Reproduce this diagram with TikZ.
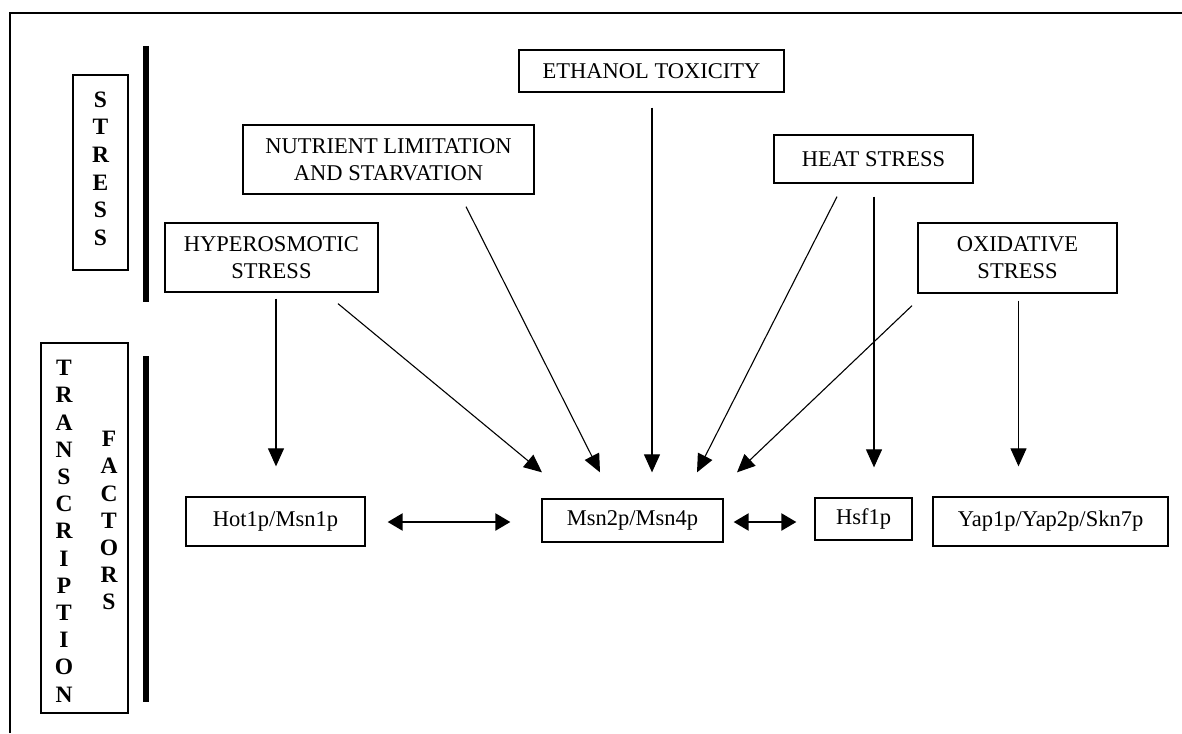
\documentclass[tikz,border=0pt]{standalone}
\usepackage{fontspec}
\setmainfont{Liberation Serif}
\usetikzlibrary{arrows.meta,calc}

\tikzset{
  box/.style={draw,line width=1.3pt,align=center,inner sep=0pt,font=\fontsize{22.5}{27}\selectfont},
  letter/.style={inner sep=0pt,font=\fontsize{23.5}{27}\selectfont\bfseries},
  arr/.style={line width=1.1pt,-{Triangle[length=18pt,width=16pt]}},
  darr/.style={line width=2.4pt,{Triangle[length=15pt,width=17pt]}-{Triangle[length=15pt,width=17pt]}},
  bar/.style={line width=6pt},
}

\begin{document}
\begin{tikzpicture}[x=1pt,y=-1pt]
        \useasboundingbox (0,0) rectangle (1182,733);
        \draw[line width=1.3pt] (10,733) -- (10,13) -- (1182,13);
        % side labels
        \node[box,minimum width=55pt,minimum height=195pt] (stressbox) at (100.5,172.5) {};
        \foreach \ch [count=\i] in {S,T,R,E,S,S}
          \node[letter] (stress\i) at (100.5,{99.5+27.7*(\i-1)}) {\ch};
        \node[box,minimum width=87pt,minimum height=370pt] (tfbox) at (84.5,528) {};
        \foreach \ch [count=\i] in {T,R,A,N,S,C,R,I,P,T,I,O,N}
          \node[letter] (transcr\i) at (64,{368+27.2*(\i-1)}) {\ch};
        \foreach \ch [count=\i] in {F,A,C,T,O,R,S}
          \node[letter] (factors\i) at (109,{439+27.2*(\i-1)}) {\ch};
        \draw[bar] (146,46) -- (146,302);
        \draw[bar] (146,356) -- (146,702);
        % stresses
        \node[box,minimum width=265pt,minimum height=42pt] (ethanol) at (651.5,71) {ETHANOL TOXICITY};
        \node[box,minimum width=291pt,minimum height=69pt] (nutrient) at (388.5,159.5) {NUTRIENT LIMITATION\\AND STARVATION};
        \node[box,minimum width=199pt,minimum height=48pt] (heat) at (873.5,159) {HEAT STRESS};
        \node[box,minimum width=213pt,minimum height=69pt] (hyper) at (271.5,257.5) {HYPEROSMOTIC\\STRESS};
        \node[box,minimum width=199pt,minimum height=70pt] (oxid) at (1017.5,258) {OXIDATIVE\\STRESS};
        % transcription factors
        \node[box,minimum width=179pt,minimum height=49pt] (hot) at (275.5,521.5) {Hot1p/Msn1p};
        \node[box,minimum width=181pt,minimum height=43pt] (msn) at (632.5,520.5) {Msn2p/Msn4p};
        \node[box,minimum width=97pt,minimum height=42pt] (hsf) at (863.5,519) {Hsf1p};
        \node[box,minimum width=235pt,minimum height=49pt] (yap) at (1050.5,521.5) {Yap1p/Yap2p/Skn7p};
        % arrows
        \draw[arr] ($(hyper.south)+(4.5,6)$) -- ($(hot.north)+(0.5,-30)$);
        \draw[arr] ($(hyper.south)+(66.5,11)$) -- ($(msn.north)+(-90.5,-26)$);
        \draw[arr] ($(nutrient.south)+(77.5,12)$) -- ($(msn.north)+(-32.5,-26)$);
        \draw[arr] ($(ethanol.south)+(0.5,15)$) -- ($(msn.north)+(19.5,-26)$);
        \draw[arr] ($(heat.south)+(-36.5,13)$) -- ($(msn.north)+(64.5,-26)$);
        \draw[arr] ($(heat.south)+(0.5,13)$) -- ($(hsf.north)+(10.5,-30)$);
        \draw[arr] ($(oxid.south)+(-105.5,12)$) -- ($(msn.north)+(104.5,-26)$);
        \draw[arr] ($(oxid.south)+(1,7)$) -- ($(yap.north)+(-32,-30)$);
        \draw[darr] ($(hot.east)+(22,0.5)$) -- ($(msn.west)+(-31,1.5)$);
        \draw[darr] ($(msn.east)+(10,1.5)$) -- ($(hsf.west)+(-18,3)$);
\end{tikzpicture}
\end{document}
